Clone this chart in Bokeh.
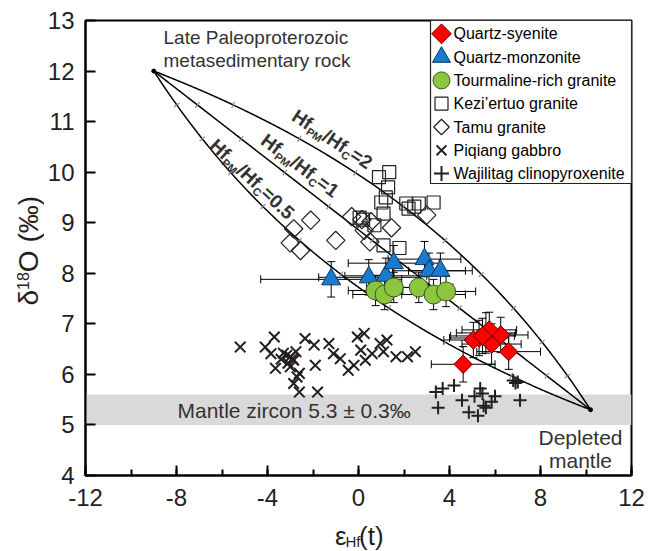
import numpy as np
from bokeh.plotting import figure
from bokeh.models import (ColumnDataSource, Whisker, TeeHead, BoxAnnotation, Label,
                          SingleIntervalTicker, Range1d)
from bokeh.layouts import row, column
from bokeh.embed import file_html
from bokeh.resources import INLINE

# ---------------- data ----------------
# Quartz-syenite
qs_x = [4.6, 6.6, 5.85, 6.25, 5.6, 5.3, 5.05, 5.75, 5.45]
qs_y = [6.2, 6.45, 6.6, 6.78, 6.82, 6.72, 6.68, 6.88, 6.76]
qs_xerr = [1.4, 1.4, 1.3, 1.2, 1.3, 1.3, 1.3, 1.2, 1.4]
qs_yerr = [0.35, 0.35, 0.4, 0.35, 0.4, 0.35, 0.35, 0.35, 0.35]
# Quartz-monzonite
qm_x = [-1.2, 0.45, 1.2, 1.55, 2.9, 3.1, 3.6]
qm_y = [7.88, 7.92, 7.95, 8.2, 8.28, 8.05, 8.05]
qm_xerr = [3.1, 2.2, 1.8, 2.0, 1.6, 1.6, 1.4]
qm_yerr = [0.35, 0.35, 0.35, 0.35, 0.35, 0.35, 0.35]
# Tourmaline-rich granite
tg_x = [0.75, 1.15, 1.55, 2.65, 3.3, 3.85]
tg_y = [7.66, 7.58, 7.72, 7.72, 7.58, 7.64]
tg_xerr = [1.2, 1.4, 1.2, 1.5, 1.4, 1.3]
tg_yerr = [0.3, 0.3, 0.3, 0.3, 0.3, 0.3]
# Kezi'ertuo granite
kz_x = [1.35, 0.9, 1.3, 1.2, 1.0, 2.1, 2.65, 3.3, 1.1, 1.1, 1.8, 0.2, 2.2, 0.05, 0.7, 2.45]
kz_y = [10.0, 9.9, 9.7, 9.5, 9.4, 9.38, 9.38, 9.4, 9.18, 8.55, 8.5, 9.06, 9.28, 9.1, 8.95, 9.32]
# Tamu granite
tm_x = [-2.1, -2.85, -3.0, -2.55, -1.0, -0.3, 0.15, 0.5, 1.45, 0.25, 3.0, 0.55]
tm_y = [9.05, 8.88, 8.6, 8.45, 8.65, 9.12, 9.06, 8.62, 8.9, 8.85, 9.15, 9.02]
# Piqiang gabbro
pq_x = [-5.2, -4.1, -3.7, -3.85, -3.65, -3.15, -2.9, -2.75, -3.0, -2.7, -2.85, -2.6, -1.8,
        -2.35, -1.95, -1.9, -1.3, -1.1, -0.8, -0.45, -0.2, -0.05, 0.25, 0.1, 0.3, 0.6, 0.95,
        1.25, 1.1, 1.65, 2.15, 2.5, -3.0, -3.1, -2.85, -3.3, -2.6, -3.4]
pq_y = [6.54, 6.54, 6.74, 6.41, 6.12, 6.38, 6.31, 6.45, 6.15, 5.95, 5.82, 5.65, 5.65,
        6.71, 6.58, 6.18, 6.61, 6.41, 6.31, 6.08, 6.18, 6.74, 6.81, 6.48, 6.28, 6.41, 6.61,
        6.68, 6.45, 6.35, 6.35, 6.45, 6.35, 6.22, 6.28, 6.42, 6.02, 6.3]
# Wajilitag clinopyroxenite
wj_x = [3.4, 3.7, 4.2, 3.5, 4.55, 5.1, 5.35, 5.45, 4.85, 5.25, 5.6, 5.85, 6.0, 5.5, 6.8, 7.0, 7.1, 6.9]
wj_y = [5.65, 5.72, 5.78, 5.34, 5.49, 5.57, 5.72, 5.62, 5.25, 5.18, 5.34, 5.46, 5.57, 5.38, 5.88, 5.85, 5.49, 5.83]

# mixing model end-members (eHf, d18O) and Hf concentration ratios
crust_end = [-9.0, 12.0]
mantle_end = [10.2, 5.3]
mix_ratios = [2, 1, 0.5]
mix_labels = ["=2", "=1", "=0.5"]
mix_steps = [0.1, 0.2, 0.3, 0.4, 0.5, 0.6, 0.7, 0.8, 0.9]

mantle_zircon = [5.0, 5.6]

x_tick_labels = {-12: "-12", -8: "-8", -4: "-4", 0: "0", 4: "4", 8: "8", 12: "12"}

legend_names = ["Quartz-syenite", "Quartz-monzonite", "Tourmaline-rich granite",
                "Kezi\u2019ertuo granite", "Tamu granite", "Piqiang gabbro",
                "Wajilitag clinopyroxenite"]

# ---------------- layout (canvas pixels) ----------------
W, H = 649, 551
YT_W = 44            # strip for the y title
XT_H = 31            # strip for the x title
BL, BR, BT, BB = 85, 18, 20, 76
X0, X1, Y0, Y1 = -12, 12, 4, 13
FW, FH = W - BL - BR, H - BT - BB
KX, KY = (X1 - X0) / FW, (Y1 - Y0) / FH


def to_data(sx, sy):
    return X0 + (sx - BL) * KX, Y1 - (sy - BT) * KY


FONT = "Liberation Sans"
INK = "#231f20"

p = figure(width=W - YT_W, height=H - XT_H, x_range=Range1d(X0, X1), y_range=Range1d(Y0, Y1),
           output_backend="svg", toolbar_location=None,
           min_border_left=BL - YT_W, min_border_right=BR, min_border_top=BT,
           min_border_bottom=BB - XT_H)
p.grid.visible = False
p.outline_line_color = "black"
p.outline_line_width = 2
p.background_fill_color = "white"
p.border_fill_color = "white"

p.xaxis.ticker = SingleIntervalTicker(interval=4, num_minor_ticks=2)
p.yaxis.ticker = SingleIntervalTicker(interval=1, num_minor_ticks=0)
p.xaxis.major_label_overrides = x_tick_labels
for ax in (p.xaxis, p.yaxis):
    ax.axis_line_width = 2
    ax.axis_line_color = "black"
    ax.major_tick_line_width = 2
    ax.major_tick_line_color = "black"
    ax.major_tick_in = 10
    ax.major_tick_out = 0
    ax.major_label_text_font = FONT
    ax.major_label_text_font_size = "24px"
    ax.major_label_text_color = INK
p.xaxis.major_label_standoff = 13
p.yaxis.major_label_standoff = 11
p.xaxis.minor_tick_in = 6
p.xaxis.minor_tick_out = 0
p.xaxis.minor_tick_line_width = 2
p.xaxis.minor_tick_line_color = "black"
p.yaxis.minor_tick_line_color = None

# mantle zircon band
p.add_layout(BoxAnnotation(bottom=mantle_zircon[0], top=mantle_zircon[1], fill_color="#d9d9d9",
                           fill_alpha=1.0, line_color=None, level="underlay"))

# mixing curves with 10 % tick marks
f = np.linspace(0, 1, 301)
ec, dc = crust_end
em, dm = mantle_end
for r in mix_ratios:
    eps = (f * r * em + (1 - f) * ec) / (f * r + (1 - f))
    d18 = f * dm + (1 - f) * dc
    p.line(eps, d18, line_color="black", line_width=1.5)
    fs = np.array(mix_steps)
    te = (fs * r * em + (1 - fs) * ec) / (fs * r + (1 - fs))
    td = fs * dm + (1 - fs) * dc
    h = 1e-3
    te2 = ((fs + h) * r * em + (1 - fs - h) * ec) / ((fs + h) * r + (1 - fs - h))
    td2 = (fs + h) * dm + (1 - fs - h) * dc
    tx = (te2 - te) / KX
    ty = -(td2 - td) / KY
    n = np.hypot(tx, ty)
    nx, ny = -ty / n, tx / n
    half = 3.5
    p.segment(te - nx * half * KX, td + ny * half * KY, te + nx * half * KX, td - ny * half * KY,
              line_color="#8a8a8a", line_width=1.2)
p.scatter([ec, em], [dc, dm], size=4, marker="circle", fill_color="black", line_color="black")


# ---------------- data markers ----------------
def errsrc(x, y, xe, ye):
    x = np.array(x); y = np.array(y); xe = np.array(xe); ye = np.array(ye)
    return ColumnDataSource(dict(x=x, y=y, xl=x - xe, xh=x + xe, yl=y - ye, yh=y + ye))


def add_err(src):
    for base, lo, hi, dim in (("y", "xl", "xh", "width"), ("x", "yl", "yh", "height")):
        p.add_layout(Whisker(source=src, base=base, lower=lo, upper=hi, dimension=dim,
                             line_color="black", line_width=1, level="underlay",
                             upper_head=TeeHead(size=8, line_width=1, line_color="black"),
                             lower_head=TeeHead(size=8, line_width=1, line_color="black")))


qm_src = errsrc(qm_x, qm_y, qm_xerr, qm_yerr)
tg_src = errsrc(tg_x, tg_y, tg_xerr, tg_yerr)
qs_src = errsrc(qs_x, qs_y, qs_xerr, qs_yerr)
for s in (qm_src, tg_src, qs_src):
    add_err(s)

STY = {
    "qs": dict(marker="square", angle=np.pi / 4, size=13, fill_color="#ff0000", line_color="#6a0000", line_width=1),
    "qm": dict(marker="triangle", angle=0, size=19, fill_color="#1a7ad0", line_color="#0b3560", line_width=1),
    "tg": dict(marker="circle", angle=0, size=19, fill_color="#8cc63f", line_color="#3b5a1c", line_width=1),
    "kz": dict(marker="square", angle=0, size=13, fill_color="white", fill_alpha=0.0, line_color="#231f20", line_width=1.2),
    "tm": dict(marker="square", angle=np.pi / 4, size=13, fill_color="white", fill_alpha=0.0, line_color="#231f20", line_width=1.2),
    "pq": dict(marker="x", angle=0, size=15, line_color="#231f20", line_width=2),
    "wj": dict(marker="cross", angle=0, size=13, line_color="#231f20", line_width=2),
}

p.scatter(pq_x, pq_y, **STY["pq"])
p.scatter(wj_x, wj_y, **STY["wj"])
p.scatter(tm_x, tm_y, **STY["tm"])
p.scatter(kz_x, kz_y, **STY["kz"])
p.scatter("x", "y", source=qm_src, **STY["qm"])
p.scatter("x", "y", source=tg_src, **STY["tg"])
p.scatter("x", "y", source=qs_src, **STY["qs"])

# ---------------- legend (drawn by hand) ----------------
lg_left, lg_top, lg_right, lg_bottom = 430, BT, BL + FW, 183
ax0, ay0 = to_data(lg_left, lg_top)
ax1, ay1 = to_data(lg_right, lg_bottom)
p.quad(left=ax0, right=ax1, top=ay0, bottom=ay1, fill_color="white", line_color="#231f20", line_width=1.2)
row0, row_h = 33.3, 23.3
leg_sizes = {"qs": 14, "qm": 18, "tg": 17, "kz": 13, "tm": 11, "pq": 14, "wj": 15}
for i, (key, name) in enumerate(zip(["qs", "qm", "tg", "kz", "tm", "pq", "wj"], legend_names)):
    cy = row0 + i * row_h
    mx, my = to_data(441, cy)
    st = dict(STY[key])
    st["size"] = leg_sizes[key]
    p.scatter([mx], [my], **st)
    tx, ty = to_data(453, cy)
    p.add_layout(Label(x=tx, y=ty, text=name, text_font=FONT, text_font_size="16px",
                       text_color="black", text_baseline="middle", text_align="left"))

# ---------------- texts ----------------
BOLDW = {'H': .722, 'f': .333, 'P': .667, 'M': .833, '/': .278, 'C': .722, '=': .584,
         '.': .278, '0': .556, '1': .556, '2': .556, '5': .556}
REGW = {'\u03b5': .446, 'H': .722, 'f': .278, '(': .333, 't': .278, ')': .333, '\u03b4': .556,
        '1': .556, '8': .556, 'O': .778, ' ': .278, '\u2030': 1.0}


def rich(fig, conv, sx, sy, deg, pieces, widths, color, bold=False):
    """text pieces laid along a (rotated) centre line that starts at canvas (sx, sy)"""
    a = np.radians(deg)
    ux, uy = np.cos(a), np.sin(a)
    dxv, dyv = -np.sin(a), np.cos(a)
    adv = 0.0
    for text, size, shift in pieces:
        px = sx + adv * ux + shift * dxv
        py = sy + adv * uy + shift * dyv
        x, y = conv(px, py)
        fig.add_layout(Label(x=x, y=y, text=text, angle=-a, text_font=FONT,
                             text_font_size=f"{size}px", text_color=color,
                             text_font_style="bold" if bold else "normal",
                             text_align="left", text_baseline="middle"))
        adv += sum(widths[c] for c in text) * size


curve_label_pos = [(293.5, 113.5, 33.5), (263, 137.5, 37.0), (212.5, 142, 43.0)]
for (sx, sy, deg), lab in zip(curve_label_pos, mix_labels):
    rich(p, to_data, sx, sy, deg,
         [("Hf", 19, 0), ("PM", 11, 6), ("/Hf", 19, 0), ("C", 11, 6), (lab, 19, 0)],
         BOLDW, "#333333", bold=True)

for txt, sx, sy, size, align in [
        ("Late Paleoproterozoic", 163, 37, "19px", "left"),
        ("metasedimentary rock", 163, 60, "19px", "left"),
        ("Mantle zircon 5.3 \u00b1 0.3\u2030", 177, 410, "21px", "left"),
        ("Depleted", 580, 437, "21px", "center"),
        ("mantle", 580, 460, "21px", "center")]:
    x, y = to_data(sx, sy)
    p.add_layout(Label(x=x, y=y, text=txt, text_font=FONT, text_font_size=size,
                       text_color="#333333", text_align=align, text_baseline="middle"))


# ---------------- axis-title strips ----------------
def strip(w, h, x_start, y_start):
    f_ = figure(width=w, height=h, x_range=Range1d(x_start, x_start + w),
                y_range=Range1d(y_start + h, y_start), output_backend="svg",
                toolbar_location=None, x_axis_type=None, y_axis_type=None,
                min_border=0, min_border_left=0, min_border_right=0,
                min_border_top=0, min_border_bottom=0)
    f_.grid.visible = False
    f_.outline_line_color = None
    f_.background_fill_color = "white"
    f_.border_fill_color = "white"
    return f_


def ident(sx, sy):
    return sx, sy


XT_SHIFT = 12   # measured offset of the x-title strip

fy = strip(YT_W, H, 0, 0)
fx = strip(W - YT_W, XT_H, YT_W, H - XT_H)

rich(fy, ident, 28, 305, -90, [("\u03b4", 28, 0), ("18", 16, -6), ("O (\u2030)", 28, 0)], REGW, INK)
rich(fx, ident, 332.5 - XT_SHIFT, 535, 0, [("\u03b5", 26, 0), ("Hf", 15, 6), ("(t)", 26, 0)], REGW, INK)

layout = row(fy, column(p, fx))
open("out.html", "w").write(file_html(layout, INLINE))
